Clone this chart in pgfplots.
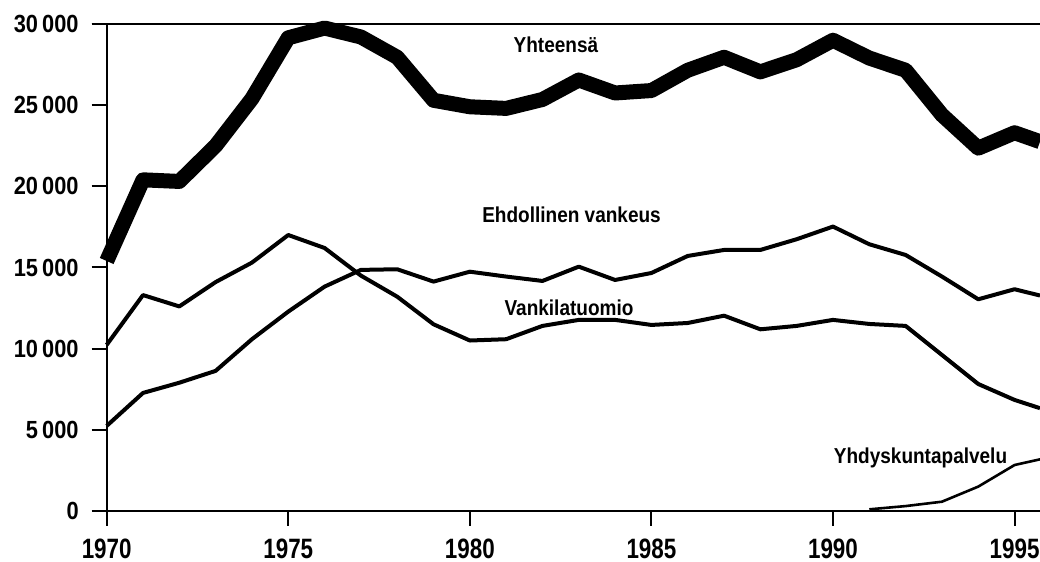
\documentclass[border=0pt]{standalone}
\usepackage{fontspec}
\setmainfont{Liberation Sans}[FakeStretch=0.88]
\newfontfamily\xtickfont{Liberation Sans}[FakeStretch=0.8]
\usepackage{pgfplots}
\pgfplotsset{compat=1.18}
\begin{document}
\begin{tikzpicture}
\begin{axis}[name=ax, scale only axis, width=466.7pt, height=243.5pt,
  xmin=1970, xmax=1995.7, ymin=0, ymax=30000, clip=false,
  scaled y ticks=false, scaled x ticks=false,
  axis x line*=bottom, axis y line*=left,
  axis line style={line width=1pt, -},
  xtick={1970,1975,...,1995}, xticklabels={1970,1975,1980,1985,1990,1995},
  ytick={0,5000,...,30000},
  yticklabels={0,5\,000,10\,000,15\,000,20\,000,25\,000,30\,000},
  tick align=outside, major tick length=7.5pt,
  tick style={line width=1pt, black},
  xticklabel style={font=\xtickfont\fontsize{14}{14}\selectfont\bfseries, yshift=-3pt},
  yticklabel style={font=\fontsize{12.4}{12.4}\selectfont\bfseries, xshift=-3pt},
  extra y ticks={30000}, extra y tick labels={},
  extra y tick style={grid=major, major grid style={black, line width=1pt}},
]
\addplot[black, line width=7.5pt, line join=round] coordinates {
(1970,15400) (1971,20400) (1972,20300) (1973,22500) (1974,25400) (1975,29150)
(1976,29750) (1977,29200) (1978,27950) (1979,25300) (1980,24900) (1981,24800)
(1982,25350) (1983,26550) (1984,25750) (1985,25900) (1986,27150) (1987,27950)
(1988,27050) (1989,27800) (1990,29000) (1991,27900) (1992,27150) (1993,24400)
(1994,22350) (1995,23300) (1995.7,22750)};
\addplot[black, line width=2pt, line join=round] coordinates {
(1970,10230) (1971,13300) (1972,12600) (1973,14100) (1974,15300) (1975,17000)
(1976,16200) (1977,14500) (1978,13200) (1979,11500) (1980,10500) (1981,10580)
(1982,11400) (1983,11770) (1984,11770) (1985,11460) (1986,11580) (1987,12030)
(1988,11190) (1989,11400) (1990,11770) (1991,11520) (1992,11400) (1993,9610)
(1994,7820) (1995,6840) (1995.7,6330)};
\addplot[black, line width=2pt, line join=round] coordinates {
(1970,5240) (1971,7270) (1972,7900) (1973,8630) (1974,10580) (1975,12280)
(1976,13820) (1977,14850) (1978,14890) (1979,14130) (1980,14740) (1981,14440)
(1982,14170) (1983,15050) (1984,14230) (1985,14660) (1986,15710) (1987,16080)
(1988,16080) (1989,16740) (1990,17520) (1991,16430) (1992,15770) (1993,14440)
(1994,13040) (1995,13660) (1995.7,13270)};
\addplot[black, line width=1.3pt, line join=round] coordinates {
(1991,100) (1992,300) (1993,570) (1994,1500) (1995,2830) (1995.7,3180)};
\node[font=\fontsize{10.8}{10.8}\selectfont\bfseries] at (axis cs:1982.37,28710) {Yhteensä};
\node[font=\fontsize{10.8}{10.8}\selectfont\bfseries] at (axis cs:1982.8,18240) {Ehdollinen vankeus};
\node[font=\fontsize{10.8}{10.8}\selectfont\bfseries] at (axis cs:1982.73,12490) {Vankilatuomio};
\node[font=\fontsize{10.8}{10.8}\selectfont\bfseries] at (axis cs:1992.41,3250) {Yhdyskuntapalvelu};
\end{axis}
\pgfresetboundingbox
\path[use as bounding box] ([shift={(-53.35pt,-25.5pt)}]ax.south west) rectangle ([shift={(0pt,12pt)}]ax.north east);
\end{tikzpicture}
\end{document}
